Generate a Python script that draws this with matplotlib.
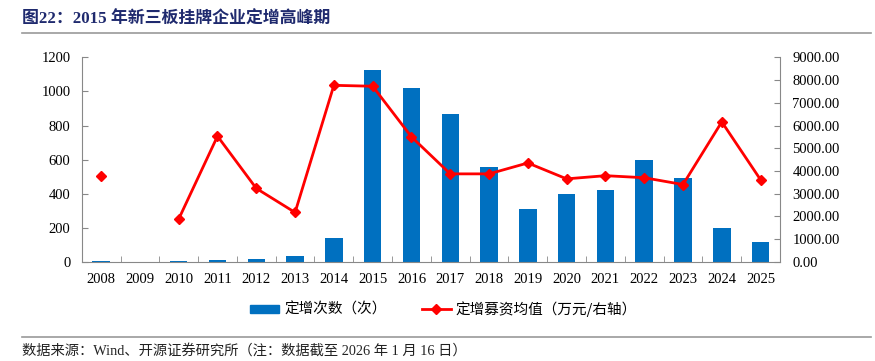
import numpy as np
import matplotlib
matplotlib.use("Agg")
import matplotlib.pyplot as plt
from matplotlib.lines import Line2D
from matplotlib.patches import Patch

plt.rcParams['font.family'] = ['Liberation Serif', 'Noto Sans CJK SC']

years = ['2008', '2009', '2010', '2011', '2012', '2013', '2014', '2015', '2016',
         '2017', '2018', '2019', '2020', '2021', '2022', '2023', '2024', '2025']
counts = [4, 0, 6, 8, 15, 31, 140, 1128, 1018, 870, 556, 310, 396, 420, 595, 490, 198, 114]
avg_amount = [3790, np.nan, 1880, 5530, 3230, 2170, 7770, 7730, 5500, 3870, 3870,
              4350, 3650, 3790, 3700, 3400, 6160, 3610]

title = '图22：2015 年新三板挂牌企业定增高峰期'
source = '数据来源：Wind、开源证券研究所（注：数据截至 2026 年 1 月 16 日）'
bar_label = '定增次数（次）'
line_label = '定增募资均值（万元/右轴）'

bar_color = '#0070C0'
line_color = '#FF0000'
axis_gray = '#888888'
cjk = ['Noto Sans CJK SC', 'DejaVu Sans']
mixed = ['Liberation Serif', 'Noto Sans CJK SC']

fig = plt.figure(figsize=(8.75, 3.61), dpi=100)
ax = fig.add_axes([0.0934, 0.275, 0.798, 0.566])
x = np.arange(len(years))

ax.bar(x, counts, width=0.45, color=bar_color, zorder=2)
ax.set_xlim(-0.5, len(years) - 0.5)
ax.set_ylim(0, 1200)
ax.set_yticks(range(0, 1201, 200))
ax.set_xticks(x)
ax.set_xticklabels(years)
ax.set_xticks(np.arange(-0.5, len(years), 1), minor=True)
ax.tick_params(axis='x', which='major', length=0, labelsize=10.5, pad=8)
ax.tick_params(axis='x', which='minor', direction='in', length=4, color=axis_gray)
ax.tick_params(axis='y', direction='in', length=4, color=axis_gray, labelsize=10.5, pad=8)
for s in ['top', 'right']:
    ax.spines[s].set_visible(False)
for s in ['left', 'bottom']:
    ax.spines[s].set_color(axis_gray)

ax2 = ax.twinx()
ax2.plot(x, avg_amount, color=line_color, lw=2, marker='D', ms=5.5, zorder=3)
ax2.set_ylim(0, 9000)
ax2.set_yticks(range(0, 9001, 1000))
ax2.set_yticklabels(['%.2f' % v for v in range(0, 9001, 1000)])
ax2.tick_params(axis='y', direction='in', length=4, color=axis_gray, labelsize=10.5, pad=9)
for s in ['top', 'left', 'bottom']:
    ax2.spines[s].set_visible(False)
ax2.spines['right'].set_color(axis_gray)

# title and footer
fig.text(0.025, 0.945, title, fontsize=12.2, fontweight='bold', color='#1F2A6E',
         family=mixed, va='center')
fig.add_artist(Line2D([0.025, 0.995], [0.909, 0.909], color='#999999', lw=1.2))
fig.add_artist(Line2D([0.025, 0.995], [0.066, 0.066], color='#999999', lw=1.2))
fig.text(0.025, 0.028, source, fontsize=10.3, va='center', color='#222222', family=mixed)

handles = [Patch(color=bar_color, label=bar_label),
           Line2D([0], [0], color=line_color, lw=2, marker='D', ms=5, label=line_label)]
leg = fig.legend(handles=handles, loc='center', bbox_to_anchor=(0.507, 0.144), ncol=2,
                 frameon=False, prop={'family': cjk, 'size': 10.5}, handlelength=2.0,
                 handleheight=0.5, columnspacing=2.4, handletextpad=0.35)

fig.savefig('out.png', dpi=100)
